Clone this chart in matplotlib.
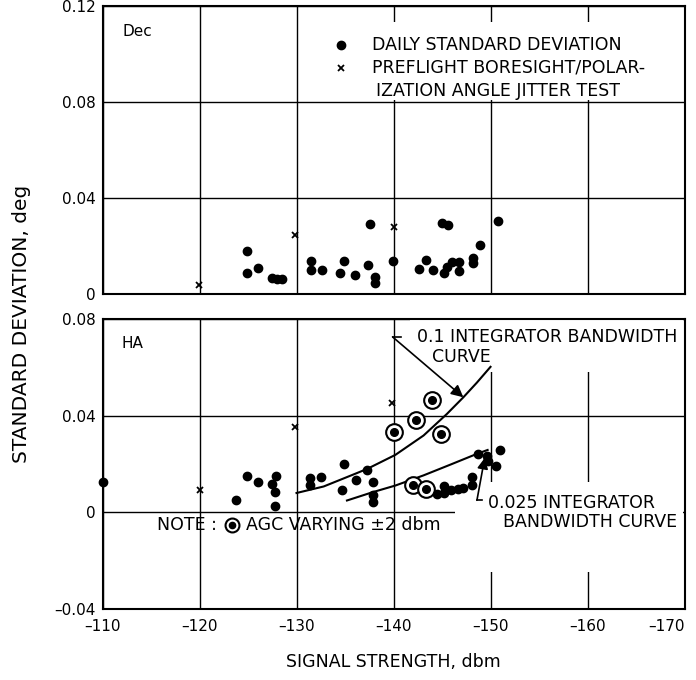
import numpy as np
import matplotlib.pyplot as plt
from matplotlib.patches import Rectangle

# signal strength axis, dbm (shared by both panels)
x_ticks = [-110, -120, -130, -140, -150, -160, -170]
x_tick_labels = ['–110', '–120', '–130', '–140', '–150', '–160', '–170']

# Dec panel
dec_ticks = [0, 0.04, 0.08, 0.12]
dec_tick_labels = ['0', '0.04', '0.08', '0.12']
dec_daily_x = [-124.9, -124.9, -126.0, -127.5, -128.0, -128.5, -131.5, -131.5,
               -132.6, -134.9, -134.5, -136.0, -137.6, -137.4, -138.1, -138.1,
               -139.9, -142.6, -143.4, -144.1, -145.0, -145.6, -145.2, -145.5,
               -146.0, -146.7, -146.8, -148.2, -148.2, -148.9, -150.8]
dec_daily_y = [0.0180, 0.0086, 0.0110, 0.0068, 0.0063, 0.0063, 0.0137, 0.0102,
               0.0102, 0.0137, 0.0086, 0.0079, 0.0290, 0.0121, 0.0072, 0.0045,
               0.0138, 0.0105, 0.0142, 0.0102, 0.0295, 0.0289, 0.0089, 0.0111,
               0.0132, 0.0098, 0.0132, 0.0149, 0.0130, 0.0205, 0.0305]
dec_pre_x = [-119.9, -129.8, -140.0]
dec_pre_y = [0.0038, 0.0247, 0.0279]

# HA panel
ha_ticks = [-0.04, 0, 0.04, 0.08]
ha_tick_labels = ['–0.04', '0', '0.04', '0.08']
ha_daily_x = [-110.0, -123.8, -124.9, -126.0, -127.5, -127.9, -127.8, -127.8,
              -131.4, -131.4, -132.5, -134.9, -134.7, -136.1, -137.3, -137.9,
              -137.9, -137.9, -144.5, -145.2, -145.2, -145.9, -146.6, -147.2,
              -148.1, -148.1, -148.7, -149.6, -149.7, -151.0, -150.6]
ha_daily_y = [0.0125, 0.0051, 0.0149, 0.0125, 0.0118, 0.0149, 0.0086, 0.0025,
              0.0143, 0.0115, 0.0148, 0.0201, 0.0093, 0.0135, 0.0176, 0.0125,
              0.0070, 0.0043, 0.0077, 0.0107, 0.0080, 0.0091, 0.0098, 0.0100,
              0.0115, 0.0148, 0.0242, 0.0235, 0.0214, 0.0256, 0.0190]
ha_pre_x = [-120.0, -129.8, -139.8]
ha_pre_y = [0.0093, 0.0352, 0.0451]
# days with AGC varying +-2 dbm
ha_agc_x = [-140.1, -142.3, -144.0, -144.9, -142.0, -143.3]
ha_agc_y = [0.0331, 0.0382, 0.0465, 0.0324, 0.0115, 0.0098]

# integrator bandwidth curves
bw01_x = [-130.0, -132.8, -136.2, -137.3, -140.2, -143.1, -145.5, -147.2, -148.6, -150.0]
bw01_y = [0.0080, 0.0107, 0.0162, 0.0180, 0.0238, 0.0318, 0.0407, 0.0476, 0.0537, 0.0602]
bw025_x = [-135.2, -137.9, -140.2, -143.1, -145.9, -148.6, -149.7]
bw025_y = [0.0049, 0.0084, 0.0111, 0.0153, 0.0198, 0.0242, 0.0258]

plt.rcParams['font.family'] = 'DejaVu Sans'
fig = plt.figure(figsize=(6.96, 6.8), dpi=100)
ax1 = fig.add_axes([0.1473, 0.5676, 0.8362, 0.4235])
ax2 = fig.add_axes([0.1473, 0.1044, 0.8362, 0.4265])

fs = 12.5


def setup(ax, yticks, ylabels):
    ax.set_xlim(-110, -170)
    ax.set_ylim(yticks[0], yticks[-1])
    ax.set_xticks(x_ticks)
    ax.set_yticks(yticks)
    ax.set_yticklabels(ylabels)
    ax.grid(True, color='black', lw=1.0)
    ax.set_axisbelow(True)
    ax.tick_params(length=0, labelsize=11, pad=5)
    for s in ax.spines.values():
        s.set_linewidth(1.5)


def dots(ax, x, y):
    ax.plot(x, y, 'o', color='black', ms=6, clip_on=False, zorder=4)


def crosses(ax, x, y):
    ax.plot(x, y, 'x', color='black', ms=5, mew=1.3, clip_on=False, zorder=4)


def blank(ax, x0, y0, w, h):
    # white patch over the grid behind a block of text
    ax.add_patch(Rectangle((x0, y0), w, h, transform=ax.transAxes,
                           facecolor='white', edgecolor='none', zorder=1))


# --- Dec ---
setup(ax1, dec_ticks, dec_tick_labels)
ax1.set_xticklabels([])
dots(ax1, dec_daily_x, dec_daily_y)
crosses(ax1, dec_pre_x, dec_pre_y)
ax1.text(0.035, 0.91, 'Dec', transform=ax1.transAxes, fontsize=11, va='center')

blank(ax1, 0.40, 0.674, 0.598, 0.27)
ax1.plot([0.41], [0.865], 'o', color='black', ms=6, transform=ax1.transAxes)
ax1.plot([0.41], [0.785], 'x', color='black', ms=5, mew=1.3, transform=ax1.transAxes)
ax1.text(0.463, 0.865, 'DAILY STANDARD DEVIATION', transform=ax1.transAxes,
         fontsize=fs, va='center')
ax1.text(0.463, 0.785, 'PREFLIGHT BORESIGHT/POLAR-', transform=ax1.transAxes,
         fontsize=fs, va='center')
ax1.text(0.470, 0.705, 'IZATION ANGLE JITTER TEST', transform=ax1.transAxes,
         fontsize=fs, va='center')

# --- HA ---
setup(ax2, ha_ticks, ha_tick_labels)
ax2.set_xticklabels(x_tick_labels)
ax2.get_xticklabels()[-1].set_horizontalalignment('right')
ax2.tick_params(axis='x', pad=7)

blank(ax2, 0.528, 0.817, 0.47, 0.18)
blank(ax2, 0.606, 0.128, 0.392, 0.31)

ax2.plot(bw01_x, bw01_y, color='black', lw=1.5, zorder=3)
ax2.plot(bw025_x, bw025_y, color='black', lw=1.5, zorder=3)
dots(ax2, ha_daily_x, ha_daily_y)
crosses(ax2, ha_pre_x, ha_pre_y)
ax2.plot(ha_agc_x, ha_agc_y, 'o', ms=12, mfc='white', mec='black', mew=1.5, zorder=4)
ax2.plot(ha_agc_x, ha_agc_y, 'o', color='black', ms=5.5, zorder=5)
ax2.text(0.032, 0.917, 'HA', transform=ax2.transAxes, fontsize=11, va='center')

# curve labels with leaders
ax2.text(0.540, 0.938, '0.1 INTEGRATOR BANDWIDTH', transform=ax2.transAxes,
         fontsize=fs, va='center')
ax2.text(0.566, 0.869, 'CURVE', transform=ax2.transAxes, fontsize=fs, va='center')
ax2.plot([-139.9, -140.8], [0.0726, 0.0726], color='black', lw=1.2)
ax2.annotate('', xy=(bw01_x[7], bw01_y[7]), xytext=(-139.9, 0.0726),
             arrowprops=dict(arrowstyle='-|>', color='black', lw=1.2,
                             mutation_scale=18, shrinkA=0, shrinkB=0))

ax2.text(0.662, 0.366, '0.025 INTEGRATOR', transform=ax2.transAxes,
         fontsize=fs, va='center')
ax2.text(0.688, 0.300, 'BANDWIDTH CURVE', transform=ax2.transAxes,
         fontsize=fs, va='center')
ax2.plot([-148.6, -149.1], [0.005, 0.005], color='black', lw=1.2)
ax2.annotate('', xy=(-149.4, 0.0225), xytext=(-148.6, 0.005),
             arrowprops=dict(arrowstyle='-|>', color='black', lw=1.2,
                             mutation_scale=16, shrinkA=0, shrinkB=0))

# note with the ringed-dot symbol
ax2.text(0.094, 0.29, 'NOTE :', transform=ax2.transAxes, fontsize=fs, va='center')
ax2.plot([0.2225], [0.29], 'o', ms=10, mfc='white', mec='black', mew=1.5,
         transform=ax2.transAxes, zorder=4)
ax2.plot([0.2225], [0.29], 'o', color='black', ms=4.5,
         transform=ax2.transAxes, zorder=5)
ax2.text(0.246, 0.29, 'AGC VARYING ±2 dbm', transform=ax2.transAxes,
         fontsize=fs, va='center')

fig.text(22 / 696, 1 - 324 / 680, 'STANDARD DEVIATION, deg', rotation=90,
         ha='center', va='center', fontsize=14.5)
fig.text(393 / 696, 1 - 662 / 680, 'SIGNAL STRENGTH, dbm', ha='center',
         va='center', fontsize=12.5)

fig.savefig('out.png', dpi=100)
